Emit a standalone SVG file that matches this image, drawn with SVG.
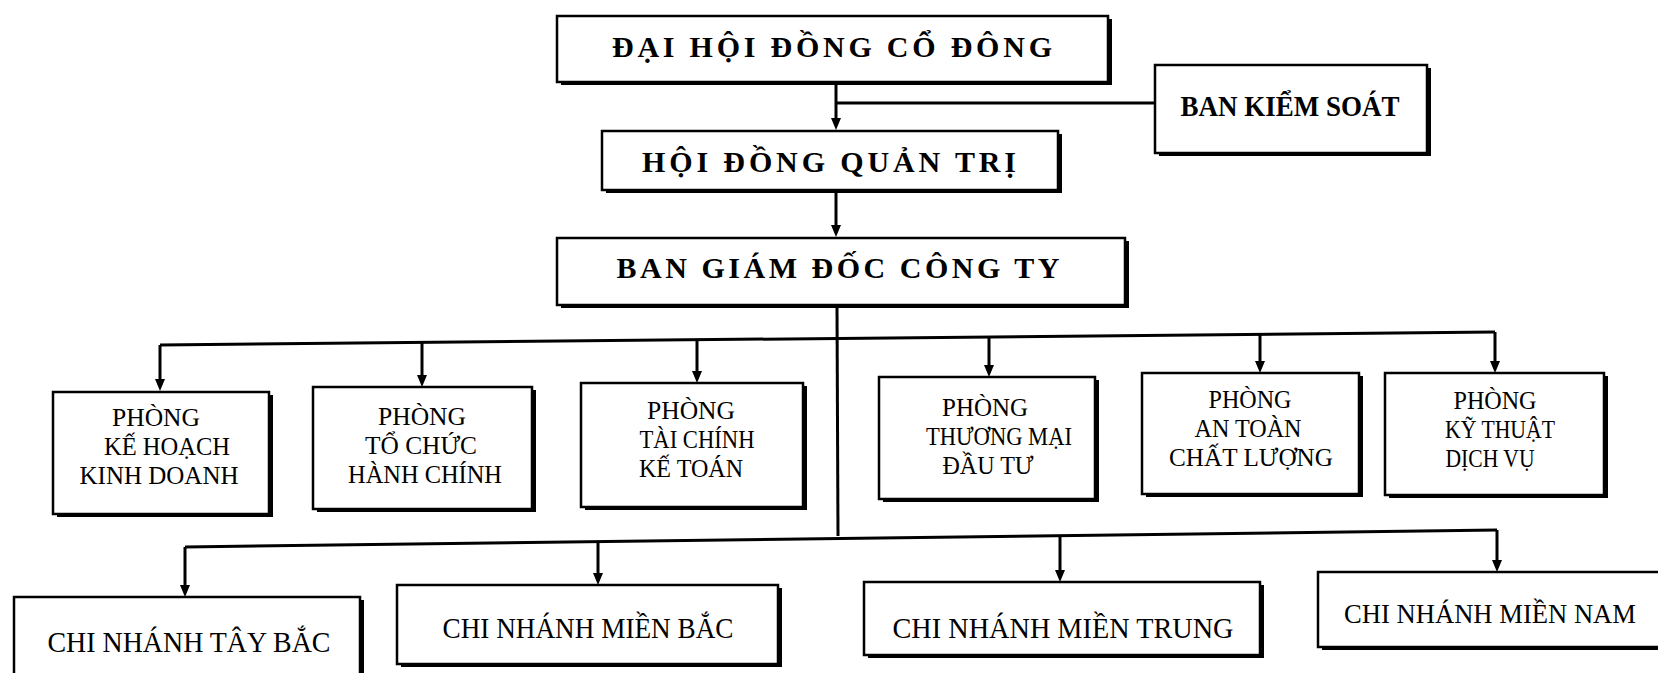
<svg xmlns="http://www.w3.org/2000/svg" width="1658" height="673" viewBox="0 0 1658 673">
<style>
  .bg{fill:#ffffff}
  .shadow{fill:#000}
  .box{fill:#fff;stroke:#000;stroke-width:2.5}
  .conn{fill:none;stroke:#000;stroke-width:3}
  .tb{font-family:"Liberation Serif","Times New Roman",serif;font-weight:bold;font-size:30px;fill:#000;text-anchor:middle}
  .t{font-family:"Liberation Serif","Times New Roman",serif;font-size:25px;fill:#000;text-anchor:middle}
  .tc{font-family:"Liberation Serif","Times New Roman",serif;font-size:29px;fill:#000;text-anchor:middle}
</style>
<defs>
  <marker id="arr" viewBox="0 0 12 10" refX="4" refY="5" markerWidth="12" markerHeight="10" markerUnits="userSpaceOnUse" orient="auto">
    <path d="M0,0 L12,5 L0,10 z" fill="#000"/>
  </marker>
</defs>
<rect class="bg" x="0" y="0" width="1658" height="673"/>

<g id="connectors">
  <line class="conn" x1="836" y1="84" x2="836" y2="122" marker-end="url(#arr)"/>
  <line class="conn" x1="1155" y1="103" x2="836" y2="103"/>
  <line class="conn" x1="836" y1="193" x2="836" y2="229" marker-end="url(#arr)"/>
  <line class="conn" x1="837" y1="308" x2="838" y2="536"/>
  <path class="conn" d="M160,345 L1495,332"/>
  <line class="conn" x1="160" y1="345" x2="160" y2="383" marker-end="url(#arr)"/>
  <line class="conn" x1="422" y1="342" x2="422" y2="379" marker-end="url(#arr)"/>
  <line class="conn" x1="697" y1="340" x2="697" y2="375" marker-end="url(#arr)"/>
  <line class="conn" x1="989" y1="337" x2="989" y2="369" marker-end="url(#arr)"/>
  <line class="conn" x1="1260" y1="334" x2="1260" y2="365" marker-end="url(#arr)"/>
  <line class="conn" x1="1495" y1="332" x2="1495" y2="365" marker-end="url(#arr)"/>
  <path class="conn" d="M185,547 L1497,530"/>
  <line class="conn" x1="185" y1="547" x2="185" y2="589" marker-end="url(#arr)"/>
  <line class="conn" x1="598" y1="542" x2="598" y2="577" marker-end="url(#arr)"/>
  <line class="conn" x1="1060" y1="536" x2="1060" y2="574" marker-end="url(#arr)"/>
  <line class="conn" x1="1497" y1="530" x2="1497" y2="564" marker-end="url(#arr)"/>
</g>

<g id="dai-hoi-dong-co-dong">
  <rect class="shadow" x="561" y="19" width="551" height="66"/>
  <rect class="box" x="557" y="16" width="551" height="66"/>
  <text class="tb" x="832" y="57" textLength="440" lengthAdjust="spacing">ĐẠI HỘI ĐỒNG CỔ ĐÔNG</text>
</g>
<g id="ban-kiem-soat">
  <rect class="shadow" x="1159" y="68" width="272" height="88"/>
  <rect class="box" x="1155" y="65" width="272" height="88"/>
  <text class="tb" x="1290" y="116" textLength="219" lengthAdjust="spacingAndGlyphs">BAN KIỂM SOÁT</text>
</g>
<g id="hoi-dong-quan-tri">
  <rect class="shadow" x="606" y="134" width="456" height="59"/>
  <rect class="box" x="602" y="131" width="456" height="59"/>
  <text class="tb" x="829" y="172" textLength="374" lengthAdjust="spacing">HỘI ĐỒNG QUẢN TRỊ</text>
</g>
<g id="ban-giam-doc">
  <rect class="shadow" x="561" y="241" width="568" height="67"/>
  <rect class="box" x="557" y="238" width="568" height="67"/>
  <text class="tb" x="838" y="278" textLength="443" lengthAdjust="spacing">BAN GIÁM ĐỐC CÔNG TY</text>
</g>

<g id="phong-ke-hoach">
  <rect class="shadow" x="57" y="395" width="216" height="122"/>
  <rect class="box" x="53" y="392" width="216" height="122"/>
  <text class="t" x="156" y="426" textLength="88" lengthAdjust="spacingAndGlyphs">PHÒNG</text>
  <text class="t" x="167" y="455" textLength="126" lengthAdjust="spacingAndGlyphs">KẾ HOẠCH</text>
  <text class="t" x="159" y="484" textLength="159" lengthAdjust="spacingAndGlyphs">KINH DOANH</text>
</g>
<g id="phong-to-chuc">
  <rect class="shadow" x="317" y="390" width="219" height="122"/>
  <rect class="box" x="313" y="387" width="219" height="122"/>
  <text class="t" x="422" y="425" textLength="88" lengthAdjust="spacingAndGlyphs">PHÒNG</text>
  <text class="t" x="421" y="454" textLength="112" lengthAdjust="spacingAndGlyphs">TỔ CHỨC</text>
  <text class="t" x="425" y="483" textLength="154" lengthAdjust="spacingAndGlyphs">HÀNH CHÍNH</text>
</g>
<g id="phong-tai-chinh">
  <rect class="shadow" x="585" y="386" width="222" height="124"/>
  <rect class="box" x="581" y="383" width="222" height="124"/>
  <text class="t" x="691" y="419" textLength="88" lengthAdjust="spacingAndGlyphs">PHÒNG</text>
  <text class="t" x="697" y="448" textLength="115" lengthAdjust="spacingAndGlyphs">TÀI CHÍNH</text>
  <text class="t" x="691" y="477" textLength="104" lengthAdjust="spacingAndGlyphs">KẾ TOÁN</text>
</g>
<g id="phong-thuong-mai">
  <rect class="shadow" x="883" y="380" width="216" height="122"/>
  <rect class="box" x="879" y="377" width="216" height="122"/>
  <text class="t" x="985" y="416" textLength="86" lengthAdjust="spacingAndGlyphs">PHÒNG</text>
  <text class="t" x="999" y="445" textLength="146" lengthAdjust="spacingAndGlyphs">THƯƠNG MẠI</text>
  <text class="t" x="988" y="474" textLength="91" lengthAdjust="spacingAndGlyphs">ĐẦU TƯ</text>
</g>
<g id="phong-an-toan">
  <rect class="shadow" x="1146" y="376" width="217" height="121"/>
  <rect class="box" x="1142" y="373" width="217" height="121"/>
  <text class="t" x="1250" y="408" textLength="83" lengthAdjust="spacingAndGlyphs">PHÒNG</text>
  <text class="t" x="1248" y="437" textLength="107" lengthAdjust="spacingAndGlyphs">AN TOÀN</text>
  <text class="t" x="1251" y="466" textLength="164" lengthAdjust="spacingAndGlyphs">CHẤT LƯỢNG</text>
</g>
<g id="phong-ky-thuat">
  <rect class="shadow" x="1389" y="376" width="219" height="122"/>
  <rect class="box" x="1385" y="373" width="219" height="122"/>
  <text class="t" x="1495" y="409" textLength="83" lengthAdjust="spacingAndGlyphs">PHÒNG</text>
  <text class="t" x="1500" y="438" textLength="110" lengthAdjust="spacingAndGlyphs">KỸ THUẬT</text>
  <text class="t" x="1490" y="467" textLength="89" lengthAdjust="spacingAndGlyphs">DỊCH VỤ</text>
</g>

<g id="chi-nhanh-tay-bac">
  <rect class="shadow" x="18" y="600" width="346" height="90"/>
  <rect class="box" x="14" y="597" width="346" height="90"/>
  <text class="tc" x="189" y="652" textLength="283" lengthAdjust="spacingAndGlyphs">CHI NHÁNH TÂY BẮC</text>
</g>
<g id="chi-nhanh-mien-bac">
  <rect class="shadow" x="401" y="588" width="381" height="79"/>
  <rect class="box" x="397" y="585" width="381" height="79"/>
  <text class="tc" x="588" y="638" textLength="291" lengthAdjust="spacingAndGlyphs">CHI NHÁNH MIỀN BẮC</text>
</g>
<g id="chi-nhanh-mien-trung">
  <rect class="shadow" x="868" y="585" width="396" height="73"/>
  <rect class="box" x="864" y="582" width="396" height="73"/>
  <text class="tc" x="1063" y="638" textLength="341" lengthAdjust="spacingAndGlyphs">CHI NHÁNH MIỀN TRUNG</text>
</g>
<g id="chi-nhanh-mien-nam">
  <rect class="shadow" x="1322" y="575" width="350" height="75"/>
  <rect class="box" x="1318" y="572" width="350" height="75"/>
  <text class="tc" x="1490" y="623" textLength="292" lengthAdjust="spacingAndGlyphs" style="font-size:27px">CHI NHÁNH MIỀN NAM</text>
</g>
</svg>
